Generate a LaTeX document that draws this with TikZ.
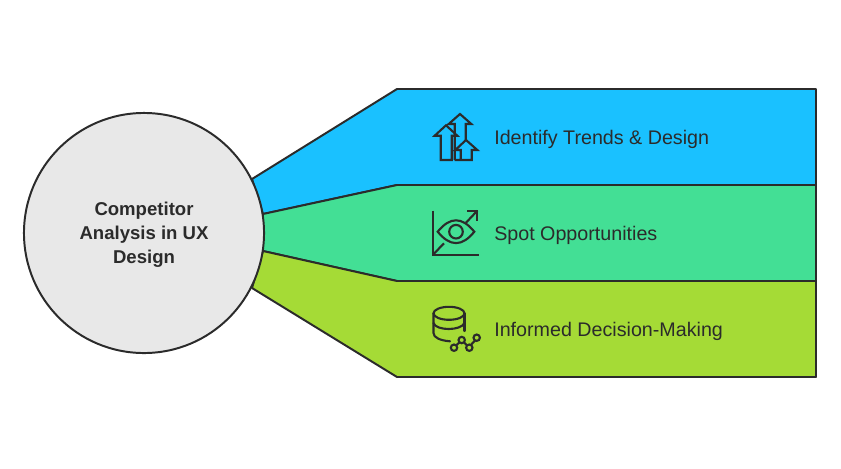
\documentclass[tikz,border=0pt]{standalone}
\usepackage{fontspec}
\setmainfont{Liberation Sans}
\definecolor{trendblue}{RGB}{26,193,255}
\definecolor{spotgreen}{RGB}{67,223,149}
\definecolor{makelime}{RGB}{165,219,54}
\definecolor{hubgray}{RGB}{232,232,232}
\definecolor{inkdark}{RGB}{43,43,43}
\tikzset{
  band/.style={draw=inkdark, line width=1.4pt, line join=round},
  icon/.style={draw=inkdark, line width=1.5pt, line join=miter},
  bandlabel/.style={anchor=west, text=inkdark, inner sep=0pt, font=\fontsize{14}{16}\selectfont},
}
\begin{document}
\begin{tikzpicture}[x=0.025cm,y=-0.025cm]
    \useasboundingbox (0,0) rectangle (841,468);

    % Bands
    \draw[band, fill=trendblue] (252,179) -- (397,89) -- (816,89) -- (816,185) -- (397,185) -- (263,214) -- cycle;
    \draw[band, fill=spotgreen] (263,214) -- (397,185) -- (816,185) -- (816,281) -- (397,281) -- (263,251) -- cycle;
    \draw[band, fill=makelime] (263,251) -- (397,281) -- (816,281) -- (816,377) -- (397,377) -- (252,288) -- cycle;

    % Hub
    \node[circle, draw=inkdark, line width=1.4pt, fill=hubgray, minimum size=6cm, inner sep=0pt] (hub) at (144,233) {};
    \node[text=inkdark, align=center, font=\fontsize{13.2}{17}\selectfont\bfseries] (hubtext) at (144,235)
        {Competitor\\Analysis in UX\\Design};

    % Labels
    \node[bandlabel] (trends) at (494,139) {Identify Trends \& Design};
    \node[bandlabel] (spot) at (494,235) {Spot Opportunities};
    \node[bandlabel] (informed) at (494,331) {Informed Decision-Making};

    % Arrows icon
    \draw[icon] (440.7,160) -- (440.7,135.7) -- (434.7,135.7) -- (446,125.3) -- (457.3,135.7) -- (451.7,135.7) -- (451.7,160) -- cycle;
    \draw[icon] (454.7,160) -- (454.7,124) -- (448.7,124) -- (460,114) -- (471.3,124) -- (465.7,124) -- (465.7,140);
    \draw[icon] (460.7,160) -- (460.7,150) -- (455.3,150) -- (466,140) -- (477.3,150) -- (471.7,150) -- (471.7,160) -- (454.7,160);

    % Eye icon
    \draw[icon] (433,210.7) -- (433,254.7) -- (479.3,254.7);
    \draw[icon] (433,254.7) -- (444,243.3);
    \draw[icon] (466,222.7) -- (477.3,210.7);
    \draw[icon] (467.3,210.7) -- (477.3,210.7) -- (477.3,220.7);
    \draw[icon] (437.7,231.7) .. controls (450,216.5) and (462,216.5) .. (474.3,231.7) .. controls (462,246.9) and (450,246.9) .. (437.7,231.7) -- cycle;
    \draw[icon] (456,231.7) circle (6.8);

    % Database icon
    \draw[icon, line cap=round] (449,313.3) ellipse (15.5 and 6.5);
    \draw[icon, line cap=round] (433.5,313.3) -- (433.5,333) .. controls (433.5,337.5) and (440,340.5) .. (450,341.3);
    \draw[icon, line cap=round] (464.5,313.3) -- (464.5,331);
    \draw[icon, line cap=round] (433.5,323) .. controls (436,331) and (461,331) .. (464.5,323);
    \draw[icon] (454,347.7) circle (3.2);
    \draw[icon] (461.7,340) circle (3.2);
    \draw[icon] (469.3,347.7) circle (3.2);
    \draw[icon] (476.7,337.7) circle (3.2);
    \draw[icon] (456.2,345.4) -- (459.5,342.3);
    \draw[icon] (463.9,342.3) -- (467.1,345.4);
    \draw[icon] (471,344.8) -- (475,340.5);
\end{tikzpicture}
\end{document}
